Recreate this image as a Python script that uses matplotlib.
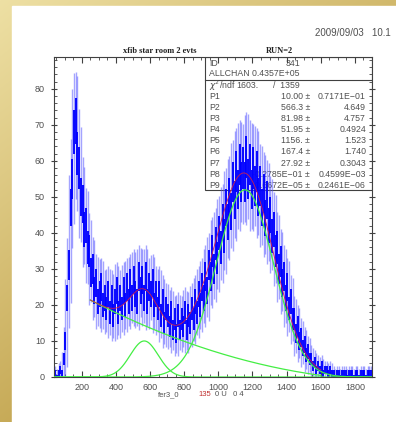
import numpy as np
import matplotlib
matplotlib.use('Agg')
import matplotlib.pyplot as plt
from matplotlib.patches import Rectangle

# histogram contents, 10-channel bins starting at 40
bin_start = 40
bin_width = 10
counts = [
    1, 0, 1, 2, 1, 5, 10, 22, 31, 47,
    55, 68, 71, 62, 58, 50, 48, 41, 42, 36,
    35, 29, 30, 24, 26, 21, 23, 25, 20, 22,
    19, 23, 18, 22, 17, 21, 24, 18, 22, 19,
    24, 20, 25, 21, 26, 22, 27, 23, 21, 28,
    24, 27, 22, 28, 21, 25, 23, 26, 20, 23,
    19, 23, 17, 21, 15, 19, 17, 14, 18, 13,
    16, 12, 17, 13, 16, 14, 18, 13, 17, 15,
    19, 16, 21, 18, 23, 20, 25, 22, 28, 24,
    31, 28, 35, 30, 37, 33, 40, 36, 43, 39,
    47, 43, 50, 46, 54, 49, 57, 52, 59, 54,
    58, 54, 61, 55, 59, 52, 58, 53, 57, 50,
    53, 47, 51, 44, 49, 42, 45, 39, 41, 35,
    36, 30, 32, 26, 28, 22, 25, 19, 21, 16,
    16, 12, 14, 10, 11, 8, 9, 6, 7, 5,
    5, 3, 4, 2, 3, 2, 3, 1, 2, 2,
    1, 2, 1, 1, 0, 1, 1, 0, 1, 1,
    1, 0, 1, 1, 1, 0, 1, 1, 0, 1,
    1, 1, 0, 1, 1, 1,
]

# fit parameters shown in the stats box
gauss1 = [10.00, 566.3, 81.98]
gauss2 = [51.95, 1156., 167.4]
poly_bg = [27.92, -0.2785E-01, 0.6672E-05]
fit_range = [250, 1600]

stat_names = ['P1', 'P2', 'P3', 'P4', 'P5', 'P6', 'P7', 'P8', 'P9']
stat_values = ['10.00 \u00b1', '566.3 \u00b1', '81.98 \u00b1', '51.95 \u00b1', '1156. \u00b1',
               '167.4 \u00b1', '27.92 \u00b1', '-0.2785E\u221201 \u00b1', '0.6672E\u221205 \u00b1']
stat_errors = ['0.7171E\u221201', '4.649', '4.757', '0.4924', '1.523',
               '1.740', '0.3043', '0.4599E\u221203', '0.2461E\u221206']

W, H = 396, 422
fig = plt.figure(figsize=(W / 100, H / 100), dpi=100)

# gold slide background with white page
bg = fig.add_axes([0, 0, 1, 1])
bg.axis('off')
yy, xx = np.mgrid[0:1:H * 1j, 0:1:W * 1j]
light = np.array([238, 224, 164]) / 255
dark = np.array([190, 158, 70]) / 255
t = np.clip(0.8 * yy + 0.6 * xx, 0, 1)[..., None]
bg.imshow(light * (1 - t) + dark * t, extent=[0, 1, 0, 1], aspect='auto')
bg.add_patch(Rectangle((12 / W, 0), 1, 1 - 6 / H, color='white', transform=bg.transAxes))
bg.set_xlim(0, 1)
bg.set_ylim(0, 1)

# main histogram frame
ax_l, ax_r, ax_t, ax_b = 54, 372, 57, 377
ax = fig.add_axes([ax_l / W, (H - ax_b) / H, (ax_r - ax_l) / W, (ax_b - ax_t) / H])
ax.set_xlim(38, 1900)
ax.set_ylim(0, 88.8)

gray = '#505050'
for s in ax.spines.values():
    s.set_color('#404040')
    s.set_linewidth(0.8)
ax.set_xticks([200, 400, 600, 800, 1000, 1200, 1400, 1600, 1800])
ax.set_xticks(np.arange(50, 1900, 50), minor=True)
ax.set_yticks([0, 10, 20, 30, 40, 50, 60, 70, 80])
ax.set_yticks(np.arange(0, 89, 2), minor=True)
ax.tick_params(axis='x', which='both', direction='in', top=True, bottom=True,
               colors='#404040', labelcolor=gray, labelsize=6.5, pad=4)
ax.tick_params(axis='y', which='major', direction='inout', left=True, right=True,
               colors='#404040', labelcolor=gray, labelsize=6.5, pad=4, length=5)
ax.tick_params(axis='y', which='minor', direction='in', left=True, right=True,
               colors='#404040', length=2)
ax.tick_params(axis='x', which='major', length=4)
ax.tick_params(axis='x', which='minor', length=2)
for lab in ax.get_xticklabels() + ax.get_yticklabels():
    lab.set_family('Liberation Sans')

# stats box (under the histogram)
box_l = (205 - ax_l) / (ax_r - ax_l)
box_b = (ax_b - 190) / (ax_b - ax_t)
ax.add_patch(Rectangle((box_l, box_b), 1 - box_l, 1 - box_b, transform=ax.transAxes,
                       facecolor='white', edgecolor='#404040', lw=0.8, zorder=1))
sep_y = (ax_b - 80) / (ax_b - ax_t)
ax.plot([box_l, 1], [sep_y, sep_y], transform=ax.transAxes, color='#404040', lw=0.8, zorder=1)


def row_y(py):
    return (ax_b - py) / (ax_b - ax_t)


def ax_x(px):
    return (px - ax_l) / (ax_r - ax_l)


tk = dict(transform=ax.transAxes, fontsize=6.3, color=gray, va='center',
          family='Liberation Sans', zorder=1.5)
ax.text(ax_x(209), row_y(63), 'ID', ha='left', **tk)
ax.text(ax_x(300), row_y(63), '341', ha='right', **tk)
ax.text(ax_x(209), row_y(74), 'ALLCHAN 0.4357E+05', ha='left', **tk)
ax.text(ax_x(209), row_y(86), '$\\chi^2$/ndf', ha='left', **tk)
ax.text(ax_x(236), row_y(86), '1603.', ha='left', **tk)
ax.text(ax_x(300), row_y(86), '/  1359', ha='right', **tk)
for i, (n, v, e) in enumerate(zip(stat_names, stat_values, stat_errors)):
    y = row_y(96.5 + 11.1 * i)
    ax.text(ax_x(209), y, n, ha='left', **tk)
    ax.text(ax_x(310), y, v, ha='right', **tk)
    ax.text(ax_x(366), y, e, ha='right', **tk)

# histogram with error spikes
v = np.array(counts, float)
x = bin_start + bin_width / 2 + bin_width * np.arange(len(v))
e = np.sqrt(v + 0.5)
prev = np.concatenate([[v[0]], v[:-1]])
nxt = np.concatenate([v[1:], [v[-1]]])
lo = np.clip(np.minimum(np.minimum(prev, nxt), v) - 1.5 * e, 0, None)
hi = np.maximum(np.maximum(prev, nxt), v) + 1.6 * e
ax.vlines(x, lo, hi, color='#4a4aff', lw=1.0, alpha=0.5, zorder=2)
ax.vlines(x, np.clip(v - 0.75 * e, 0, None), v + 0.75 * e, color='#0000ff', lw=1.35, zorder=2.1)

# fit curves
xs = np.linspace(38, 1900, 800)
g1 = gauss1[0] * np.exp(-0.5 * ((xs - gauss1[1]) / gauss1[2]) ** 2)
g2 = gauss2[0] * np.exp(-0.5 * ((xs - gauss2[1]) / gauss2[2]) ** 2)
ax.plot(xs, g1, color='#44ee44', lw=0.9, zorder=3)
ax.plot(xs, g2, color='#44ee44', lw=0.9, zorder=3)
xf = np.linspace(fit_range[0], fit_range[1], 600)
bgf = poly_bg[0] + poly_bg[1] * xf + poly_bg[2] * xf ** 2
tot = bgf + gauss1[0] * np.exp(-0.5 * ((xf - gauss1[1]) / gauss1[2]) ** 2) \
    + gauss2[0] * np.exp(-0.5 * ((xf - gauss2[1]) / gauss2[2]) ** 2)
ax.plot(xf, bgf, color='#44ee44', lw=0.9, zorder=3)
ax.plot(xf, tot, color='#d0204a', lw=0.6, zorder=3.1)

# page texts
fig.text(315 / W, 1 - 33 / H, '2009/09/03   10.1', fontsize=7, color=gray,
         family='Liberation Sans', va='center', ha='left')
fig.text(160 / W, 1 - 51 / H, 'xfib star room 2 evts', fontsize=6, weight='bold',
         family='Liberation Serif', ha='center', va='center', color='#202020')
fig.text(279 / W, 1 - 51 / H, 'RUN=2', fontsize=6, weight='bold',
         family='Liberation Serif', ha='center', va='center', color='#202020')
fig.text(158 / W, 1 - 395 / H, 'fer3_0', fontsize=5.5, color=gray,
         family='Liberation Sans', ha='left', va='center')
fig.text(198 / W, 1 - 395 / H, '135', fontsize=5.5, color='#c03030',
         family='Liberation Sans', ha='left', va='center')
fig.text(215 / W, 1 - 395 / H, '0 U   0 4', fontsize=5.5, color=gray,
         family='Liberation Sans', ha='left', va='center')

fig.savefig('out.png', dpi=100)
